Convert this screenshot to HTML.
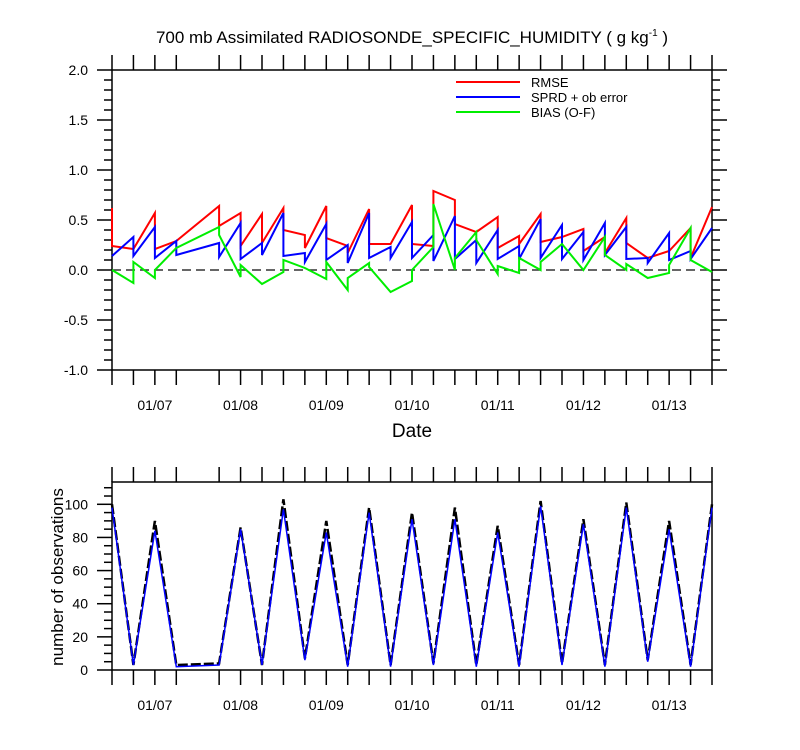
<!DOCTYPE html>
<html><head><meta charset="utf-8"><style>
body{margin:0;background:#fff;}
svg{display:block;font-family:"Liberation Sans",Arial,sans-serif;}
</style></head><body>
<svg id="chart" width="800" height="750" viewBox="0 0 800 750">
<text x="412" y="43" text-anchor="middle" font-size="17">700 mb Assimilated RADIOSONDE_SPECIFIC_HUMIDITY ( g kg<tspan dy="-7" font-size="10">-1</tspan><tspan dy="7"> )</tspan></text>
<g id="topPanel"></g>
<g id="botPanel"></g>
<text x="412" y="437" text-anchor="middle" font-size="19">Date</text>
<text transform="translate(63,577) rotate(-90)" text-anchor="middle" font-size="17">number of observations</text>
<g>
<line x1="456" y1="82" x2="520" y2="82" stroke="#f00" stroke-width="2"/>
<text x="531" y="87" font-size="13">RMSE</text>
<line x1="456" y1="97" x2="520" y2="97" stroke="#00f" stroke-width="2"/>
<text x="531" y="102" font-size="13">SPRD + ob error</text>
<line x1="456" y1="112" x2="520" y2="112" stroke="#0e0" stroke-width="2"/>
<text x="531" y="117" font-size="13">BIAS (O-F)</text>
</g>
</svg>
<script>
// 6-hourly steps starting 01/06 12Z; two values per step (a = arriving, b = leaving)
const dateLabels = ["01/07","01/08","01/09","01/10","01/11","01/12","01/13"];
const rmseA = [0.62,0.21,0.57,0.29,null,0.64,0.57,0.56,0.62,0.35,0.64,0.24,0.61,0.26,0.65,0.24,0.70,0.38,0.53,0.34,0.56,0.33,0.41,0.33,0.52,0.12,0.19,0.42,0.63];
const rmseB = [0.24,0.21,0.21,0.29,null,0.44,0.24,0.27,0.40,0.22,0.32,0.17,0.26,0.26,0.26,0.79,0.46,0.38,0.22,0.26,0.28,0.33,0.19,0.17,0.27,0.12,0.19,0.12,0.63];
const sprdA = [0.14,0.33,0.43,0.29,null,0.27,0.47,0.27,0.57,0.17,0.46,0.25,0.57,0.23,0.48,0.35,0.54,0.30,0.40,0.24,0.51,0.45,0.38,0.47,0.43,0.12,0.37,0.19,0.42];
const sprdB = [0.14,0.14,0.12,0.15,null,0.13,0.11,0.15,0.14,0.08,0.10,0.07,0.12,0.12,0.12,0.09,0.11,0.07,0.11,0.11,0.12,0.11,0.10,0.15,0.11,0.07,0.10,0.11,0.42];
const biasA = [0.00,-0.13,-0.08,0.22,null,0.43,-0.07,-0.14,-0.02,0.02,-0.09,-0.20,0.07,-0.22,-0.11,0.23,0.00,0.38,-0.04,-0.03,0.00,0.26,0.00,0.33,0.00,-0.08,-0.03,0.42,-0.02];
const biasB = [0.00,0.08,0.00,0.22,null,0.35,0.05,-0.14,0.10,0.02,0.08,-0.08,0.03,-0.22,0.00,0.66,0.12,0.30,0.04,0.12,0.08,0.26,0.00,0.15,0.06,-0.08,0.05,0.10,-0.02];
const obsTotal = [100,3,90,3,null,4,86,3,103,7,90,3,98,3,95,4,98,3,87,3,102,4,91,3,101,6,90,3,100];
const obsUsed = [98,3,84,2,null,3,85,3,97,6,83,2,95,2,91,3,91,2,83,2,99,3,88,2,98,5,85,2,98];
const topTicks = ["-1.0","-0.5","0.0","0.5","1.0","1.5","2.0"];
const botTicks = ["0","20","40","60","80","100"];

const NS="http://www.w3.org/2000/svg";
const X0=112, X1=712, NSTEP=28;
function xs(i){return X0+(X1-X0)*i/NSTEP;}
function yTop(v){return 370-(v+1)*100;}
function yBot(v){return 670-v*1.657;}
function mk(parent,tag,attrs){const e=document.createElementNS(NS,tag);for(const k in attrs)e.setAttribute(k,attrs[k]);parent.appendChild(e);return e;}
const gTop=document.getElementById('topPanel'), gBot=document.getElementById('botPanel');

function frame(g,yt,yb){
  const r=mk(g,'rect',{x:X0,y:yt,width:X1-X0,height:yb-yt,fill:'none',stroke:'#000','stroke-width':1.5});
  
  
  for(let i=0;i<=NSTEP;i++){
    if(obsTotal[i]===null) continue;
    const x=xs(i);
    const L=15;
    mk(g,'line',{x1:x,y1:yb,x2:x,y2:yb+L,stroke:'#000','stroke-width':1.5});
    mk(g,'line',{x1:x,y1:yt,x2:x,y2:yt-L,stroke:'#000','stroke-width':1.5});
  }
  dateLabels.forEach((d,k)=>{
    const t=mk(g,'text',{x:xs(2+4*k),y:yb+40,'text-anchor':'middle','font-size':14});
    t.textContent=d;
    
    
  });
}
frame(gTop,70,370);
frame(gBot,482,670);

for(let k=-10;k<=20;k++){
  const v=k/10; const y=yTop(v); const major=(k%5===0); const L=major?15:8;
  mk(gTop,'line',{x1:X0,y1:y,x2:X0-L,y2:y,stroke:'#000','stroke-width':1.5});
  mk(gTop,'line',{x1:X1,y1:y,x2:X1+L,y2:y,stroke:'#000','stroke-width':1.5});
}
topTicks.forEach(s=>{
  const t=mk(gTop,'text',{x:X0-24,y:yTop(parseFloat(s))+5,'text-anchor':'end','font-size':14});
  t.textContent=s;
  
  
});
const zl=mk(gTop,'line',{x1:X0,y1:yTop(0),x2:X1,y2:yTop(0),stroke:'#333','stroke-width':1.5,'stroke-dasharray':'9,5'});



function sawPath(A,B,fy){
  let d='',pen=false;
  for(let i=0;i<A.length;i++){
    if(A[i]===null) continue;
    const x=xs(i);
    d+=(pen?'L':'M')+x.toFixed(1)+','+fy(A[i]).toFixed(1);
    d+='L'+x.toFixed(1)+','+fy(B[i]).toFixed(1);
    pen=true;
  }
  return d;
}
const pr=mk(gTop,'path',{d:sawPath(rmseA,rmseB,yTop),fill:'none',stroke:'#f00','stroke-width':2});


const pb=mk(gTop,'path',{d:sawPath(sprdA,sprdB,yTop),fill:'none',stroke:'#00f','stroke-width':2});


const pg=mk(gTop,'path',{d:sawPath(biasA,biasB,yTop),fill:'none',stroke:'#0e0','stroke-width':2});



for(let v=0;v<=110;v+=5){
  const y=yBot(v); const major=v%20===0; const L=major?15:8;
  mk(gBot,'line',{x1:X0,y1:y,x2:X0-L,y2:y,stroke:'#000','stroke-width':1.5});
}
botTicks.forEach(s=>{
  const t=mk(gBot,'text',{x:X0-24,y:yBot(parseFloat(s))+5,'text-anchor':'end','font-size':14});
  t.textContent=s;
  
  
});
function linePath(V,fy){
  let d='',pen=false;
  V.forEach((v,i)=>{ if(v===null) return; d+=(pen?'L':'M')+xs(i).toFixed(1)+','+fy(v).toFixed(1); pen=true;});
  return d;
}
const pk=mk(gBot,'path',{d:linePath(obsTotal,yBot),fill:'none',stroke:'#000','stroke-width':2.5,'stroke-dasharray':'10,3'});


const pu=mk(gBot,'path',{d:linePath(obsUsed,yBot),fill:'none',stroke:'#00f','stroke-width':1.5});


</script>
</body></html>
